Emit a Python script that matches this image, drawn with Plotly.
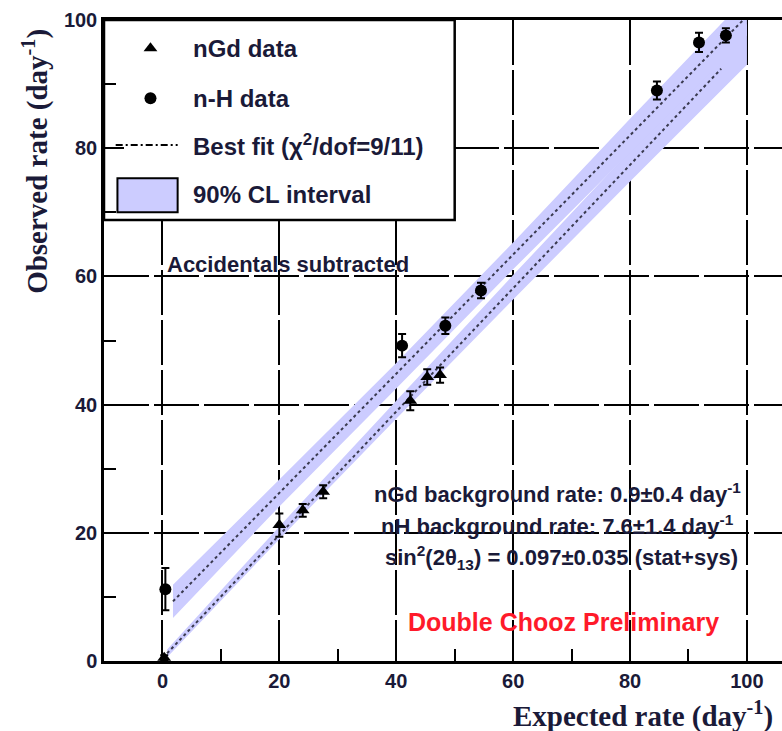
import plotly.graph_objects as go

# ---------------- data ----------------
ngd_x = [0.3, 20.0, 24.0, 27.5, 42.4, 45.3, 47.5]
ngd_y = [0.5, 21.2, 23.5, 26.4, 40.6, 44.3, 44.6]
ngd_err = [0.4, 1.8, 1.0, 1.0, 1.5, 1.2, 1.2]

nh_x = [0.5, 41.0, 48.4, 54.5, 84.6, 91.8, 96.4]
nh_y = [11.2, 49.2, 52.3, 57.8, 89.0, 96.5, 97.6]
nh_err = [3.3, 1.8, 1.3, 1.2, 1.4, 1.5, 1.1]

# best-fit lines (start/end)
gd_fit_x = [0.8, 95.6]
gd_fit_y = [1.2, 92.4]
h_fit_x = [1.8, 100.0]
h_fit_y = [9.3, 100.6]

# 90% CL bands
band_x = [0.8, 20, 40, 60, 80, 100]
gd_band_lo = [0.6, 19.0, 37.8, 56.4, 74.8, 93.0]
gd_band_hi = [1.8, 21.0, 40.6, 60.2, 79.6, 99.4]
hband_x = [1.8, 20, 40, 60, 80, 100]
h_band_lo = [6.7, 24.1, 42.5, 61.1, 79.4, 97.6]
h_band_hi = [11.9, 28.3, 46.5, 65.3, 84.6, 103.6]

x_ticks = [0, 20, 40, 60, 80, 100]
y_ticks = [0, 20, 40, 60, 80, 100]

band_col = "rgb(204,204,255)"
txt_col = "#1a1a38"
fit_col = "#3a3a50"

fig = go.Figure()

# bands
fig.add_trace(go.Scatter(x=band_x + band_x[::-1], y=gd_band_hi + gd_band_lo[::-1],
                         fill="toself", fillcolor=band_col, line=dict(width=0),
                         mode="lines", hoverinfo="skip", showlegend=False))
fig.add_trace(go.Scatter(x=hband_x + hband_x[::-1], y=h_band_hi + h_band_lo[::-1],
                         fill="toself", fillcolor=band_col, line=dict(width=0),
                         mode="lines", hoverinfo="skip", showlegend=False))
# fit lines
for fx, fy in [(gd_fit_x, gd_fit_y), (h_fit_x, h_fit_y)]:
    fig.add_trace(go.Scatter(x=fx, y=fy, mode="lines",
                             line=dict(color=fit_col, width=2, dash="3px,3px"),
                             showlegend=False, hoverinfo="skip"))
# data
fig.add_trace(go.Scatter(x=ngd_x, y=ngd_y, mode="markers",
                         marker=dict(symbol="triangle-up", size=12, color="black"),
                         error_y=dict(type="data", array=ngd_err, color="black", thickness=2, width=4),
                         showlegend=False, cliponaxis=False))
fig.add_trace(go.Scatter(x=nh_x, y=nh_y, mode="markers",
                         marker=dict(symbol="circle", size=12, color="black"),
                         error_y=dict(type="data", array=nh_err, color="black", thickness=2, width=4),
                         showlegend=False))

# ---------------- manual legend ----------------
fig.add_shape(type="rect", xref="x", yref="y", x0=-10, x1=50, y0=68.8, y1=100,
              fillcolor="white", line=dict(color="black", width=2.5), layer="between")
fig.add_trace(go.Scatter(x=[-2.05], y=[95.6], mode="markers",
                         marker=dict(symbol="triangle-up", size=12, color="black"),
                         showlegend=False, hoverinfo="skip"))
fig.add_trace(go.Scatter(x=[-2.05], y=[87.8], mode="markers",
                         marker=dict(symbol="circle", size=12, color="black"),
                         showlegend=False, hoverinfo="skip"))
fig.add_trace(go.Scatter(x=[-8.0, 2.6], y=[80.5, 80.5], mode="lines",
                         line=dict(color="black", width=1.8, dash="7px,3px,2px,3px"),
                         showlegend=False, hoverinfo="skip"))
fig.add_shape(type="rect", xref="x", yref="y", x0=-7.7, x1=2.6, y0=70.0, y1=75.3,
              fillcolor=band_col, line=dict(color="black", width=2), layer="above")

leg_font = dict(family="Liberation Sans, Arial", size=24, color=txt_col, weight="bold")
for ty, tt in [(95.6, "nGd data"), (87.8, "n-H data"),
               (80.5, "Best fit (χ<sup>2</sup>/dof=9/11)"), (72.7, "90% CL interval")]:
    fig.add_annotation(x=4.8, y=ty, xref="x", yref="y", text=tt, showarrow=False,
                       xanchor="left", yanchor="middle", font=leg_font)

# ---------------- text ----------------
fig.add_annotation(x=21.4, y=61.8, xref="x", yref="y", text="Accidentals subtracted",
                   showarrow=False, font=dict(family="Liberation Sans, Arial", size=22,
                                              color=txt_col, weight="bold"))
st_font = dict(family="Liberation Sans, Arial", size=22, color=txt_col, weight="bold")
fig.add_annotation(x=67.6, y=26.2, xref="x", yref="y",
                   text="nGd background rate: 0.9±0.4 day<sup>-1</sup>", showarrow=False, font=st_font)
fig.add_annotation(x=67.6, y=21.2, xref="x", yref="y",
                   text="nH background rate: 7.6±1.4 day<sup>-1</sup>", showarrow=False, font=st_font)
fig.add_annotation(x=68.3, y=16.1, xref="x", yref="y",
                   text="sin<sup>2</sup>(2θ<sub>13</sub>) = 0.097±0.035 (stat+sys)", showarrow=False, font=st_font)
fig.add_annotation(x=68.6, y=6.1, xref="x", yref="y", text="Double Chooz Preliminary",
                   showarrow=False, font=dict(family="Liberation Sans, Arial", size=25,
                                              color="#ff1a2a", weight="bold"))

ttl_font = dict(family="Liberation Serif, Times New Roman", size=29, color=txt_col, weight="bold")
fig.add_annotation(x=0.99, y=-0.084, xref="paper", yref="paper", text="Expected rate (day<sup>-1</sup>)",
                   showarrow=False, xanchor="right", yanchor="middle", font=ttl_font)
fig.add_annotation(x=-0.102, y=0.78, xref="paper", yref="paper", text="Observed rate (day<sup>-1</sup>)",
                   showarrow=False, textangle=-90, xanchor="center", yanchor="middle", font=ttl_font)

tick_font = dict(family="Liberation Sans, Arial", size=20, color=txt_col, weight="bold")
fig.update_xaxes(range=[-10, 106], tickvals=x_ticks, ticktext=[str(v) for v in x_ticks],
                 showgrid=True, gridcolor="black", gridwidth=2, griddash="45px,5px",
                 showline=True, linecolor="black", linewidth=2.5, mirror=True,
                 ticks="inside", ticklen=20, tickwidth=2, tickcolor="black",
                 minor=dict(ticks="inside", ticklen=12, tickwidth=2, tickcolor="black",
                            tickvals=[10, 30, 50, 70, 90], showgrid=False),
                 zeroline=False, tickfont=tick_font, fixedrange=True)
fig.update_yaxes(range=[0, 100], tickvals=y_ticks, ticktext=[str(v) for v in y_ticks],
                 showgrid=True, gridcolor="black", gridwidth=2, griddash="45px,5px",
                 showline=True, linecolor="black", linewidth=2.5,
                 ticks="inside", ticklen=20, tickwidth=2, tickcolor="black",
                 minor=dict(ticks="inside", ticklen=12, tickwidth=2, tickcolor="black",
                            tickvals=[10, 30, 50, 70, 90], showgrid=False),
                 zeroline=False, tickfont=tick_font, fixedrange=True)

fig.update_layout(width=782, height=731, margin=dict(l=104, r=0, t=20, b=70),
                  plot_bgcolor="white", paper_bgcolor="white", showlegend=False)

fig.write_html("out.html")
